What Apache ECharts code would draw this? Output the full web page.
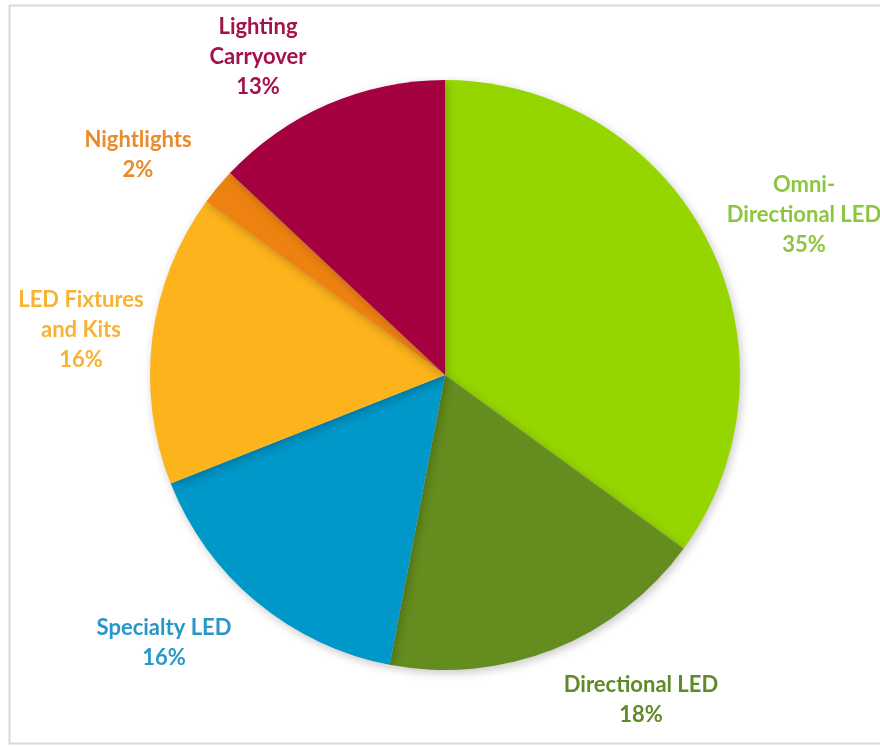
<!DOCTYPE html>
<html>
<head>
<meta charset="utf-8">
<style>
  html, body { margin: 0; padding: 0; background: #ffffff; }
  #chart { width: 880px; height: 746px; }
</style>
<script src="https://cdn.jsdelivr.net/npm/echarts@6/dist/echarts.min.js"></script>
</head>
<body>
<div id="chart"></div>
<script>
// Share of lighting sales by product group (percent)
const categories = [
  'Omni-\nDirectional LED',
  'Directional LED',
  'Specialty LED',
  'LED Fixtures\nand Kits',
  'Nightlights',
  'Lighting\nCarryover'
];
const shares = [35, 18, 16, 16, 2, 13];
const sliceColors = ['#95d500', '#648c1e', '#0097c9', '#fdb31b', '#ee8211', '#a5003f'];
const labelColors = ['#8cc63e', '#5f8a28', '#2797c9', '#f7b334', '#e98a2c', '#a3124b'];

// Label anchor points (block centres) around the pie
const labelAnchors = [
  [804, 215],
  [641, 700],
  [164, 643],
  [81, 330],
  [138, 155],
  [258, 57]
];

const chart = echarts.init(document.getElementById('chart'), null, { renderer: 'canvas' });

chart.setOption({
  backgroundColor: '#ffffff',
  animation: false,
  graphic: [{
    type: 'rect',
    shape: { x: 9.5, y: 5.5, width: 880, height: 738 },
    style: { fill: 'none', stroke: '#d9d9d9', lineWidth: 2 },
    silent: true
  }],
  series: [{
    type: 'pie',
    center: [445, 375],
    radius: 295,
    startAngle: 90,
    clockwise: true,
    silent: true,
    itemStyle: {
      borderWidth: 0,
      shadowBlur: 10,
      shadowOffsetX: 2,
      shadowOffsetY: 3,
      shadowColor: 'rgba(0,0,0,0.22)'
    },
    label: {
      show: true,
      formatter: p => p.name + '\n' + p.value + '%',
      fontFamily: 'Lato',
      fontWeight: 'bold',
      fontSize: 22,
      lineHeight: 30,
      align: 'center',
      verticalAlign: 'middle',
      overflow: 'none',
      width: 300
    },
    labelLine: { show: false },
    labelLayout: p => ({
      x: labelAnchors[p.dataIndex][0],
      y: labelAnchors[p.dataIndex][1],
      align: 'center',
      verticalAlign: 'middle'
    }),
    data: categories.map((name, i) => ({
      name: name,
      value: shares[i],
      itemStyle: { color: sliceColors[i] },
      label: { color: labelColors[i] }
    }))
  }]
});
</script>
</body>
</html>
